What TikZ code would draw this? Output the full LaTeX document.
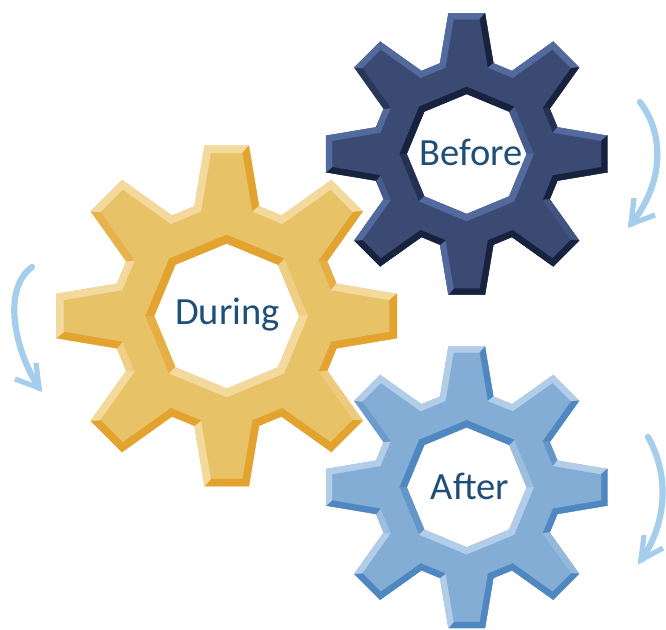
\documentclass[tikz,border=0pt]{standalone}
\usepackage{fontspec}
\setmainfont{Carlito}
\definecolor{navyF}{HTML}{3A4A73}\definecolor{navyL}{HTML}{536A9F}\definecolor{navyD}{HTML}{17223F}
\definecolor{goldF}{HTML}{E8C266}\definecolor{goldL}{HTML}{F3DA9C}\definecolor{goldD}{HTML}{E3A32E}
\definecolor{skyF}{HTML}{84ADD6}\definecolor{skyL}{HTML}{B2CDE7}\definecolor{skyD}{HTML}{4F88C0}
\definecolor{arrowblue}{HTML}{A5CDEC}\definecolor{labelblue}{HTML}{1F4E79}
\tikzset{
  x=1pt,y=1pt,
  gearlabel/.style={anchor=base,inner sep=0pt,text=labelblue,font=\fontsize{38.5}{38.5}\selectfont},
  turnstem/.style={draw=arrowblue,line width=6.2pt,line cap=round},
  turnhead/.style={draw=arrowblue,line width=5.2pt,miter limit=10,line join=miter}
}
% shaded bevel facet: normal angle, light, dark, four points
\newcommand{\facet}[7]{%
  \pgfmathsetmacro\mixp{max(0,min(100,50+220*cos(#1-120)))}%
  \fill[draw=#2!\mixp!#3,line width=.3pt,fill=#2!\mixp!#3] (#4) -- (#5) -- (#6) -- (#7) -- cycle;%
}
\newcommand{\drawgear}[6]{% cx cy scale face light dark
\begin{scope}[shift={(#1,#2)},scale=#3]
  \fill[#4,even odd rule]
    ([rotate=0]-18.3,140.7)
    \foreach \a in {0,-45,...,-315}{
      -- ([rotate=\a]-18.3,140.7) -- ([rotate=\a]18.3,140.7) -- ([rotate=\a]26.7,90.7) -- ([rotate=\a]45.3,83)
    } -- cycle
    (0:60) -- (45:60) -- (90:60) -- (135:60) -- (180:60) -- (225:60) -- (270:60) -- (315:60) -- cycle;
  \foreach \a in {0,-45,...,-315}{
    \begin{scope}[rotate=\a]
      \pgfmathsetmacro\na{170.4+\a}\facet{\na}{#5}{#6}{-26.7,90.7}{-18.3,140.7}{-13.2,134.7}{-21.4,86.4}
      \pgfmathsetmacro\nb{90+\a}\facet{\nb}{#5}{#6}{-18.3,140.7}{18.3,140.7}{13.2,134.7}{-13.2,134.7}
      \pgfmathsetmacro\nc{9.6+\a}\facet{\nc}{#5}{#6}{18.3,140.7}{26.7,90.7}{21.4,86.4}{13.2,134.7}
      \pgfmathsetmacro\nd{67.5+\a}\facet{\nd}{#5}{#6}{26.7,90.7}{45.3,83}{46,76.2}{21.4,86.4}
    \end{scope}
  }
  \foreach \a in {0,45,...,315}{
    \pgfmathsetmacro\nh{\a+202.5}\pgfmathsetmacro\ab{\a+45}
    \facet{\nh}{#5}{#6}{\a:60}{\ab:60}{\ab:67}{\a:67}
  }
\end{scope}}
\begin{document}
\begin{tikzpicture}
\useasboundingbox (0,0) rectangle (666,629);
\drawgear{226.7}{313}{1.21}{goldF}{goldL}{goldD}
\drawgear{466.7}{475}{1}{navyF}{navyL}{navyD}
\drawgear{466.7}{141.7}{1}{skyF}{skyL}{skyD}
\node[gearlabel] (before) at (471,463) {Before};
\node[gearlabel] (during) at (227.5,304) {During};
\node[gearlabel] (after) at (470,129) {After};
% rotation arrows
\coordinate (bs) at (640,527); \coordinate (bt) at (631,405);
\coordinate (b1) at (634,431); \coordinate (b2) at (655,414);
\draw[turnstem] (bs) .. controls (668,490) and (660,440) .. (bt);
\draw[turnhead] (b1) -- (bt) -- (b2);
\coordinate (ds) at (32,362); \coordinate (dt) at (39,241);
\coordinate (d1) at (36,266); \coordinate (d2) at (15,250);
\draw[turnstem] (ds) .. controls (2,340) and (14,280) .. (dt);
\draw[turnhead] (d1) -- (dt) -- (d2);
\coordinate (as) at (648,192); \coordinate (at) at (641,69);
\coordinate (a1) at (644,94); \coordinate (a2) at (663,81);
\draw[turnstem] (as) .. controls (672,150) and (664,100) .. (at);
\draw[turnhead] (a1) -- (at) -- (a2);
\end{tikzpicture}
\end{document}
